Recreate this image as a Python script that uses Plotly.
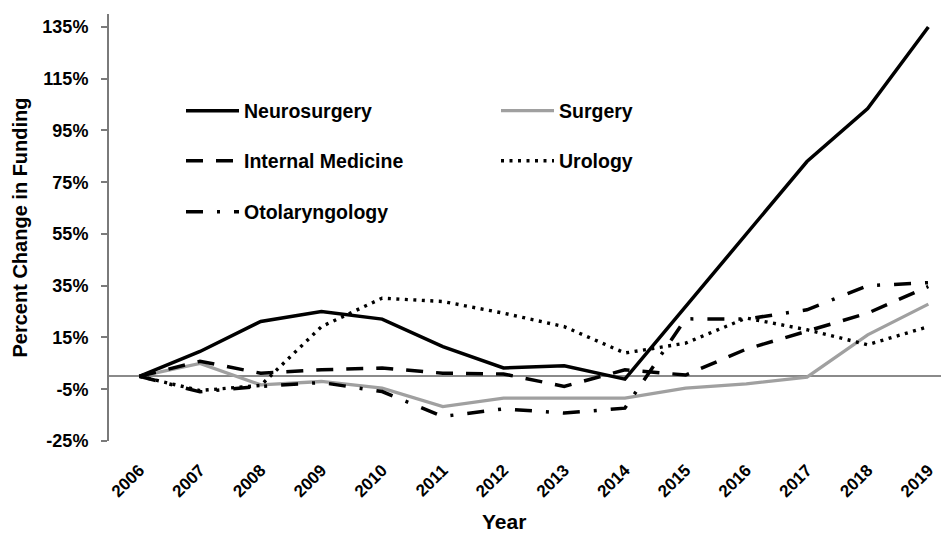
import plotly.graph_objects as go

years = [2006, 2007, 2008, 2009, 2010, 2011, 2012, 2013, 2014, 2015, 2016, 2017, 2018, 2019]
year_labels = [str(y) for y in years]

neurosurgery = [0, 9.6, 21.2, 25.0, 22.1, 11.5, 3.2, 4.1, -1.1, 27.0, 55.0, 83.0, 103.5, 135.0]
surgery = [0, 5.0, -3.3, -2.0, -4.6, -11.7, -8.4, -8.4, -8.4, -4.6, -2.9, -0.3, 16.0, 27.9]
internal_medicine = [0, 5.8, 1.2, 2.5, 3.2, 1.2, 0.9, -3.9, 2.5, 0.5, 10.5, 17.3, 24.4, 34.7]
urology = [0, -5.5, -3.5, 19.2, 30.2, 28.9, 24.4, 19.2, 9.0, 12.8, 22.5, 18.0, 12.2, 19.2]
otolaryngology = [0, -6.0, -3.9, -2.4, -5.9, -15.5, -12.6, -14.2, -12.3, 22.2, 22.1, 25.7, 35.0, 36.2]

y_tick_vals = [-25, -5, 15, 35, 55, 75, 95, 115, 135]
y_tick_text = [f"{v}%" for v in y_tick_vals]

FONT = "Liberation Sans, Arial, sans-serif"

# The page body adds an 8px offset; positions below are given in window pixels
OFF = 8
W_PL, W_PR, W_PT, W_PB = 109, 949, 14, 441   # plot area in window pixels
PL, PR, PT, PB = W_PL - OFF, W_PR - OFF, W_PT - OFF, W_PB - OFF  # figure pixels

def wx(px):
    return (px - W_PL) / (W_PR - W_PL)

def wy(py):
    return (W_PB - py) / (W_PB - W_PT)

series = [
    ("Neurosurgery", neurosurgery, "#000000", "solid", 3.5, "legend"),
    ("Surgery", surgery, "#a0a0a0", "solid", 3.3, "legend"),
    ("Internal Medicine", internal_medicine, "#000000", "17px,13px", 3.5, "legend2"),
    ("Urology", urology, "#000000", "3px,5.5px", 3.4, "legend2"),
    ("Otolaryngology", otolaryngology, "#000000", "17px,14px,3px,14px", 3.5, "legend3"),
]

fig = go.Figure()
for name, vals, color, dash, width, leg in series:
    fig.add_trace(go.Scatter(
        x=years, y=vals, name=name, mode="lines",
        line=dict(color=color, dash=dash, width=width),
        legend=leg,
    ))

legend_common = dict(
    orientation="h",
    xref="paper", yref="paper",
    xanchor="left", yanchor="middle",
    entrywidth=247, entrywidthmode="pixels",
    itemwidth=53,
    bgcolor="rgba(0,0,0,0)",
    font=dict(family=FONT, size=19.5, color="#000000", weight="bold"),
)

fig.update_layout(
    width=949, height=533,
    margin=dict(l=PL, r=949 - PR, t=PT, b=533 - PB),
    paper_bgcolor="white", plot_bgcolor="white",
    font=dict(family=FONT, color="#000000"),
    showlegend=True,
    legend=dict(legend_common, x=wx(181), y=wy(111)),
    legend2=dict(legend_common, x=wx(181), y=wy(161)),
    legend3=dict(legend_common, x=wx(181), y=wy(212)),
    xaxis=dict(
        range=[2005.5, 2019.34],
        tickvals=years, ticktext=year_labels,
        tickangle=-45,
        showline=False, showgrid=False, zeroline=False,
        ticks="",
        ticklabelstandoff=15,
        tickfont=dict(family=FONT, size=17, color="#000000", weight="bold"),
    ),
    yaxis=dict(
        range=[-25, 140],
        tickvals=y_tick_vals, ticktext=y_tick_text,
        showline=True, linecolor="#7a7a7a", linewidth=2,
        ticks="outside", ticklen=6, tickwidth=2, tickcolor="#7a7a7a",
        showgrid=False,
        zeroline=True, zerolinecolor="#8a8a8a", zerolinewidth=2,
        ticklabelstandoff=9,
        tickfont=dict(family=FONT, size=18, color="#000000", weight="bold"),
        title=dict(text="Percent Change in Funding", standoff=9,
                   font=dict(family=FONT, size=20, color="#000000", weight="bold")),
    ),
    annotations=[
        dict(text="Year", x=wx(504), y=wy(521), xref="paper", yref="paper",
             xanchor="center", yanchor="middle", showarrow=False,
             font=dict(family=FONT, size=21, color="#000000", weight="bold")),
    ],
)

fig.write_html("out.html")
